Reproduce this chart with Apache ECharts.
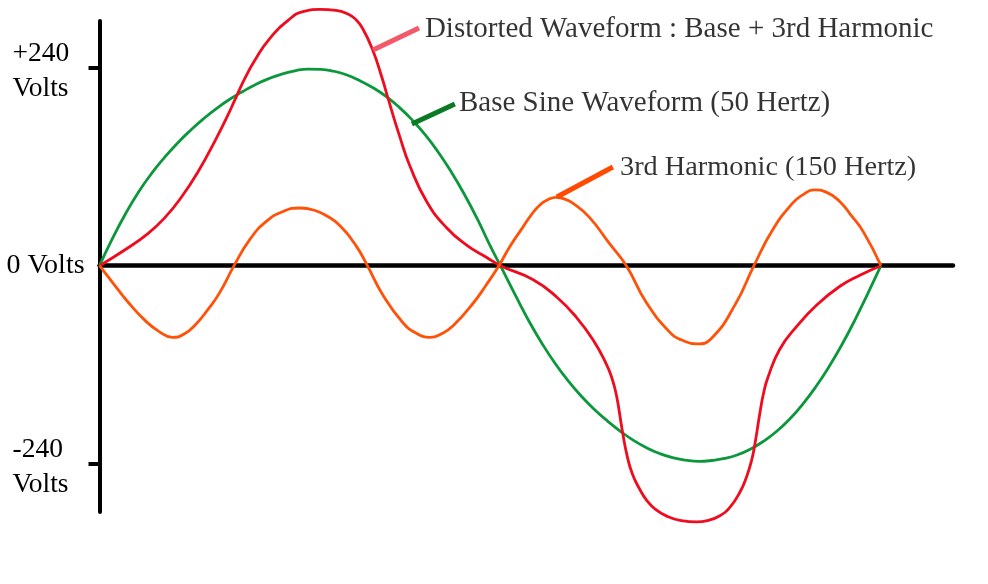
<!DOCTYPE html>
<html>
<head>
<meta charset="utf-8">
<script src="https://cdn.jsdelivr.net/npm/echarts@6/dist/echarts.min.js"></script>
<style>
html,body{margin:0;padding:0;background:#fff;}
#chart{width:988px;height:584px;}
</style>
</head>
<body>
<div id="chart"></div>
<script>
// x: phase angle of the 50 Hz base wave, degrees (one full cycle = 360)
// Base sine waveform (50 Hertz), volts
var baseX = [0, 6, 12, 18, 24, 30, 36, 42, 48, 54, 60, 66, 72, 78, 84, 90, 96, 102, 108, 114, 120, 126, 132, 138, 144, 150, 156, 162, 168, 174, 180, 184.7,
             192, 198, 204, 210, 216, 222, 228, 234, 240, 246, 252, 258, 264, 270, 276, 282, 288, 294, 300, 306, 312, 318, 324, 330, 336, 342, 348, 354, 360];
var baseV = [0, 33, 63, 89.5, 112, 131.5, 149, 164.5, 178.5, 191, 202, 211.5, 220, 227, 232.5, 236.5, 238.7, 238.4, 236, 231.5, 224.5, 216, 205.5, 192.5, 177, 159, 138, 114, 87, 57, 24, 0,
             -38, -68, -95, -119, -140, -158.5, -174.5, -188.5, -201, -212, -221, -228, -233, -236, -237.5, -236.5, -234, -229.5, -222.5, -213, -201, -186, -168, -147, -123, -96, -66, -33.5, 0];

// Distorted waveform : base + 3rd harmonic, volts
var distX = [0, 11.6, 22.3, 30, 37.7, 45.4, 53.1, 59.2, 63, 66.9, 71.5, 78.5, 87.9, 93.3, 101.6, 108.9, 114.9, 118, 121.1, 125.7, 130.4, 132.6,
             138.4, 143, 150.7, 159.9, 169.1, 178.4, 184.7, 199.8, 210.6, 219.8, 227.5, 233.6, 236, 238.2, 240.8, 243, 245.5, 249, 252, 256, 261.3,
             268, 275.1, 280, 285.8, 290.5, 295, 298, 300.4, 302, 304.2, 306, 308, 313.4, 321.1, 330.3, 341.1, 350.3, 360];
var distV = [0, 19, 39, 58, 83, 114, 151, 183, 205, 227, 249, 276, 300, 308, 311, 310, 305, 299, 288.5, 263, 226, 206,
             156, 121, 78, 46, 25, 10, 0, -17, -38, -63, -90.5, -120, -136, -158, -199.5, -230, -253, -272, -284.5, -295.5, -304,
             -309.5, -311, -309.5, -303.5, -293, -275, -257, -236.5, -215.5, -179.5, -154, -135, -101.5, -74, -48, -25, -11.5, 0];

// 3rd harmonic (150 Hertz), volts
var harmX = [0, 6.5, 13.4, 21.2, 27.5, 33.6, 39, 44.4, 50, 55.3, 62, 69.3, 77, 84.8, 92.4, 99.3, 105, 110.2, 118, 123.4,
             130.4, 139.7, 146, 152.2, 158, 162.9, 172.3, 178, 184, 189, 194.6, 199, 203, 206.5, 210.3, 214, 218, 225.6, 234.9, 242.7,
             252, 262.8, 268, 275.2, 282, 292.9, 301.5, 310, 319.3, 324, 329.1, 335, 341, 346, 351.9, 360];
var harmV = [0, -22, -45, -67, -80, -87, -83, -71, -53, -33, 0, 32, 54, 66, 70, 67, 60, 50, 25, 0,
             -35, -69, -82, -87, -82, -73, -45, -24, 0, 23, 45, 62, 74, 80, 83, 81, 76, 59, 27, 0,
             -45, -81, -90, -95, -88, -47, 0, 43, 76, 86, 92, 89, 78, 62, 41, 0];

// y-axis tick values and labels
var yTicks = [-240, 240];
var yLabelValues = [-240, 0, 240];
var yLabelText = {'-240': '-240\nVolts', '0': '0 Volts', '240': '+240\nVolts'};

// callout texts, their anchor points and pointer segments (data coordinates)
var calloutText = ['Distorted Waveform : Base + 3rd Harmonic', 'Base Sine Waveform (50 Hertz)', '3rd Harmonic (150 Hertz)'];
var calloutSize = [29, 29, 28.3];
var calloutAt = [[149.9, 286.5], [165.6, 196.5], [239.8, 119.0]];
var pointerDist = [[126.0, 261.8], [147.2, 288.5]];
var pointerBase = [[143.9, 172.1], [163.7, 196.3]];
var pointerHarm = [[210.7, 83.4], [236.5, 119.8]];

function pairs(xs, vs) { return xs.map(function (x, i) { return [x, vs[i]]; }); }

var FONT = '"Liberation Serif", "Times New Roman", "DejaVu Serif", serif';
var cRed = '#ee0c1e', cGreen = '#0b973c', cOrange = '#ff5208';

var chart = echarts.init(document.getElementById('chart'), null, {renderer: 'canvas'});
chart.setOption({
  animation: false,
  backgroundColor: '#ffffff',
  grid: {left: 99.5, right: 35, top: 21, bottom: 72},
  xAxis: {
    type: 'value', min: 0, max: 393.2,
    axisLine: {show: true, onZero: true, lineStyle: {color: '#000', width: 4.5}},
    axisTick: {show: false}, axisLabel: {show: false}, splitLine: {show: false}
  },
  yAxis: {
    type: 'value', min: -299, max: 297,
    axisLine: {show: true, lineStyle: {color: '#000', width: 4}},
    axisTick: {show: true, customValues: yTicks, length: 11, lineStyle: {color: '#000', width: 4}},
    axisLabel: {
      show: true, customValues: yLabelValues, align: 'left', margin: 93,
      formatter: function (v) {
        var t = yLabelText[String(v)];
        if (v === 0) return '{z|' + t + '}';
        return t.split('\n').map(function (s) { return '{v|' + s + '}'; }).join('\n');
      },
      rich: {
        z: {fontFamily: FONT, fontSize: 28, color: '#000'},
        v: {fontFamily: FONT, fontSize: 27.5, color: '#000', lineHeight: 35, verticalAlign: 'bottom', padding: [0, 0, 0, 6]}
      }
    },
    splitLine: {show: false}
  },
  series: [
    {name: 'Base', type: 'line', data: pairs(baseX, baseV), smooth: 0.5, showSymbol: false, clip: false,
     lineStyle: {color: cGreen, width: 2.8}, z: 3},
    {name: 'Distorted', type: 'line', data: pairs(distX, distV), smooth: 0.5, showSymbol: false, clip: false,
     lineStyle: {color: cRed, width: 2.8}, z: 4},
    {name: 'Harmonic', type: 'line', data: pairs(harmX, harmV), smooth: 0.5, showSymbol: false, clip: false,
     lineStyle: {color: cOrange, width: 2.8}, z: 5},
    {type: 'line', data: pointerDist, showSymbol: false, clip: false, lineStyle: {color: '#f4596a', width: 5}, z: 6},
    {type: 'line', data: pointerBase, showSymbol: false, clip: false, lineStyle: {color: '#0a7a26', width: 5}, z: 6},
    {type: 'line', data: pointerHarm, showSymbol: false, clip: false, lineStyle: {color: '#ff4a00', width: 5}, z: 6},
    {type: 'scatter', symbolSize: 0, z: 7, clip: false,
     data: calloutAt.map(function (p, i) {
       return {value: p, name: calloutText[i], label: {fontSize: calloutSize[i]}};
     }),
     label: {show: true, position: 'right', distance: 0, formatter: '{b}',
             fontFamily: FONT, fontSize: 29, color: '#000'}}
  ]
});
</script>
</body>
</html>
